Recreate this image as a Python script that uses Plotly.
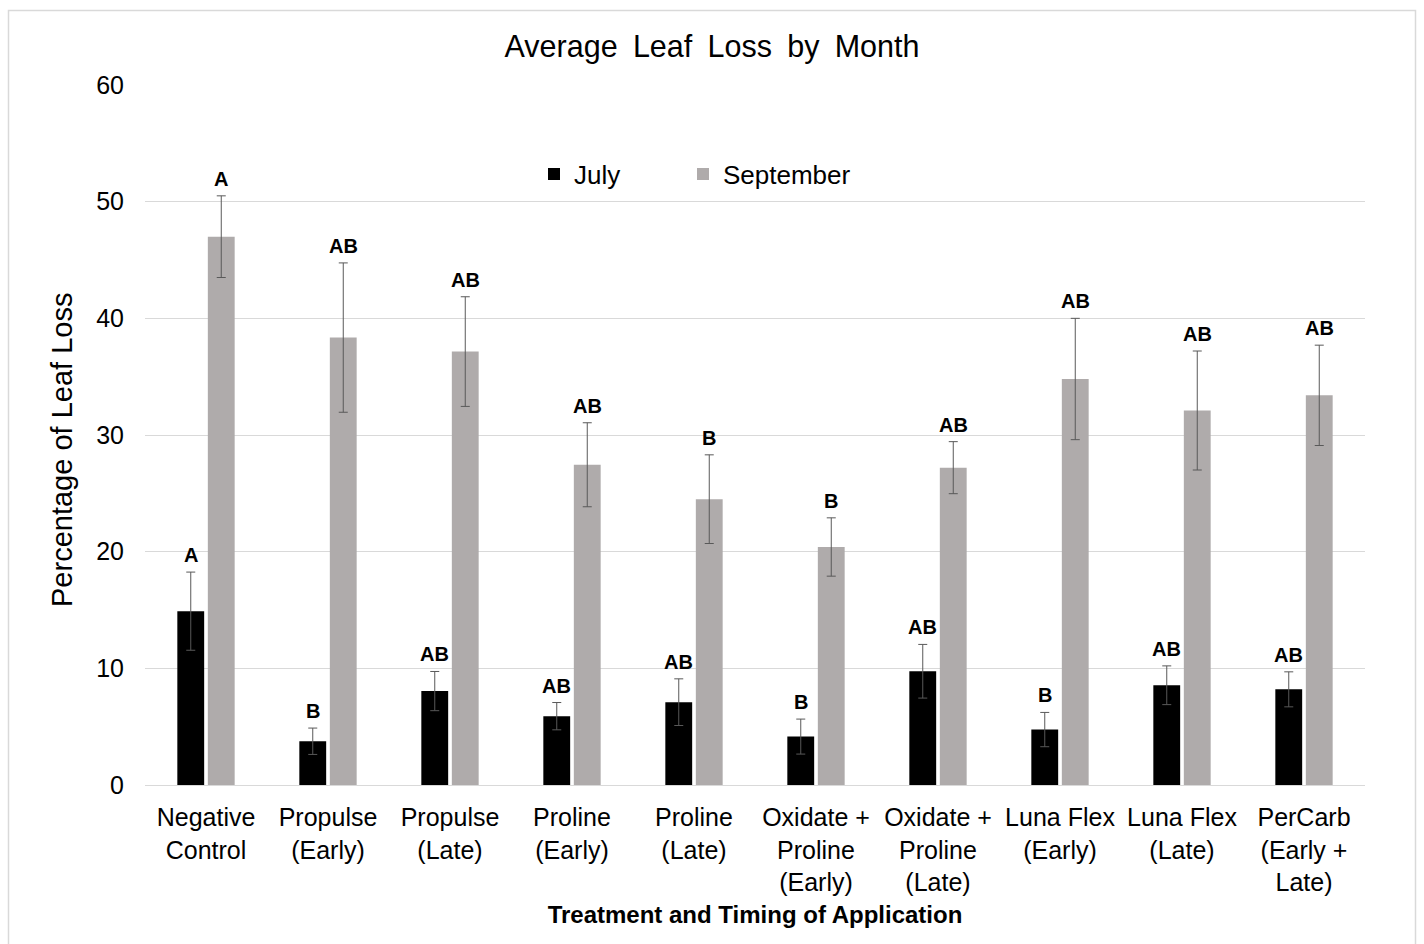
import plotly.graph_objects as go

# Treatments (multi-line tick labels)
treatments = [
    "Negative<br>Control",
    "Propulse<br>(Early)",
    "Propulse<br>(Late)",
    "Proline<br>(Early)",
    "Proline<br>(Late)",
    "Oxidate +<br>Proline<br>(Early)",
    "Oxidate +<br>Proline<br>(Late)",
    "Luna Flex<br>(Early)",
    "Luna Flex<br>(Late)",
    "PerCarb<br>(Early +<br>Late)",
]

# Mean leaf loss (%) and standard error
july_mean = [14.9, 3.75, 8.05, 5.9, 7.1, 4.15, 9.75, 4.75, 8.55, 8.2]
july_err = [3.35, 1.13, 1.68, 1.17, 2.0, 1.5, 2.3, 1.47, 1.66, 1.5]
sept_mean = [47.0, 38.35, 37.15, 27.45, 24.5, 20.4, 27.2, 34.8, 32.1, 33.4]
sept_err = [3.5, 6.4, 4.7, 3.6, 3.8, 2.5, 2.23, 5.2, 5.1, 4.3]

# Mean-separation letters
july_letters = ["A", "B", "AB", "AB", "AB", "B", "AB", "B", "AB", "AB"]
sept_letters = ["A", "AB", "AB", "AB", "B", "B", "AB", "AB", "AB", "AB"]

JULY_COLOR = "#000000"
SEPT_COLOR = "#AFABAB"
ERR_COLOR = "#595959"
GRID = "#D9D9D9"
FONT = "Liberation Sans, Arial, sans-serif"

W, H = 1424, 944
ML, MR, MT, MB = 145, 59, 85, 159
PW, PH = W - ML - MR, H - MT - MB
BARGAP = 0.5


def px_x(p):
    return (p - ML) / PW


def px_y(p):
    return (H - MB - p) / PH


fig = go.Figure()
fig.add_trace(go.Bar(
    name="July", x=treatments, y=july_mean, legend="legend", showlegend=True,
    marker=dict(color=JULY_COLOR, line=dict(width=0)),
    error_y=dict(type="data", array=july_err, visible=True,
                 color=ERR_COLOR, thickness=1, width=4.5),
))
fig.add_trace(go.Bar(
    name="September", x=treatments, y=sept_mean, legend="legend2", showlegend=True,
    marker=dict(color=SEPT_COLOR, line=dict(width=0)),
    error_y=dict(type="data", array=sept_err, visible=True,
                 color=ERR_COLOR, thickness=1, width=4.5),
))

# Letters above each error bar
cat_px = PW / len(treatments)
slot_half = cat_px * (1 - BARGAP) / 4
annotations = []
for series, means, errs, letters in (
    (-1, july_mean, july_err, july_letters),
    (1, sept_mean, sept_err, sept_letters),
):
    for cat, m, e, lab in zip(treatments, means, errs, letters):
        annotations.append(dict(
            x=cat, y=m + e, xref="x", yref="y",
            text=lab, showarrow=False,
            xanchor="center", yanchor="bottom",
            xshift=series * slot_half, yshift=4,
            font=dict(family=FONT, size=20, color="#000000", weight="bold"),
        ))

# Y-axis title
annotations.append(dict(
    x=px_x(62), y=px_y(450), xref="paper", yref="paper",
    text="Percentage of Leaf Loss", textangle=-90, showarrow=False,
    xanchor="center", yanchor="middle",
    font=dict(family=FONT, size=29, color="#000000"),
))

legend_common = dict(
    orientation="h", yanchor="middle", y=px_y(174), xanchor="left",
    font=dict(family=FONT, size=26, color="#000000"),
    bgcolor="rgba(0,0,0,0)", borderwidth=0, visible=True,
)

fig.update_layout(
    width=W, height=H, autosize=False,
    margin=dict(l=ML, r=MR, t=MT, b=MB, pad=0),
    paper_bgcolor="white", plot_bgcolor="white",
    font=dict(family=FONT, color="#000000"),
    showlegend=True,
    barmode="group", bargap=BARGAP, bargroupgap=0.12,
    title=dict(
        text="Average\u2002Leaf\u2002Loss\u2002by\u2002Month",
        x=0.5, xref="container", xanchor="center",
        y=1 - 46 / H, yref="container", yanchor="middle",
        font=dict(family=FONT, size=30.5, color="#000000"),
    ),
    legend=dict(legend_common, x=px_x(534)),
    legend2=dict(legend_common, x=px_x(683)),
    xaxis=dict(
        tickangle=0,
        tickfont=dict(family=FONT, size=25, color="#000000"),
        showline=False, showgrid=False, ticks="",
        ticklabelstandoff=15,
        title=dict(text="<b>Treatment and Timing of Application</b>",
                   font=dict(family=FONT, size=24, color="#000000"),
                   standoff=11),
    ),
    yaxis=dict(
        range=[0, 60], dtick=10,
        showgrid=True, gridcolor=GRID, gridwidth=1,
        zeroline=True, zerolinecolor=GRID, zerolinewidth=1,
        showline=False, ticks="",
        tickfont=dict(family=FONT, size=25, color="#000000"),
        ticklabelstandoff=20,
    ),
    annotations=annotations,
    shapes=[dict(
        type="rect", xref="paper", yref="paper",
        x0=px_x(8.5), x1=px_x(1415.5),
        y0=px_y(960), y1=px_y(10.5),
        line=dict(color=GRID, width=1.5), fillcolor="rgba(0,0,0,0)", layer="below",
    )],
)

fig.write_html("out.html")
